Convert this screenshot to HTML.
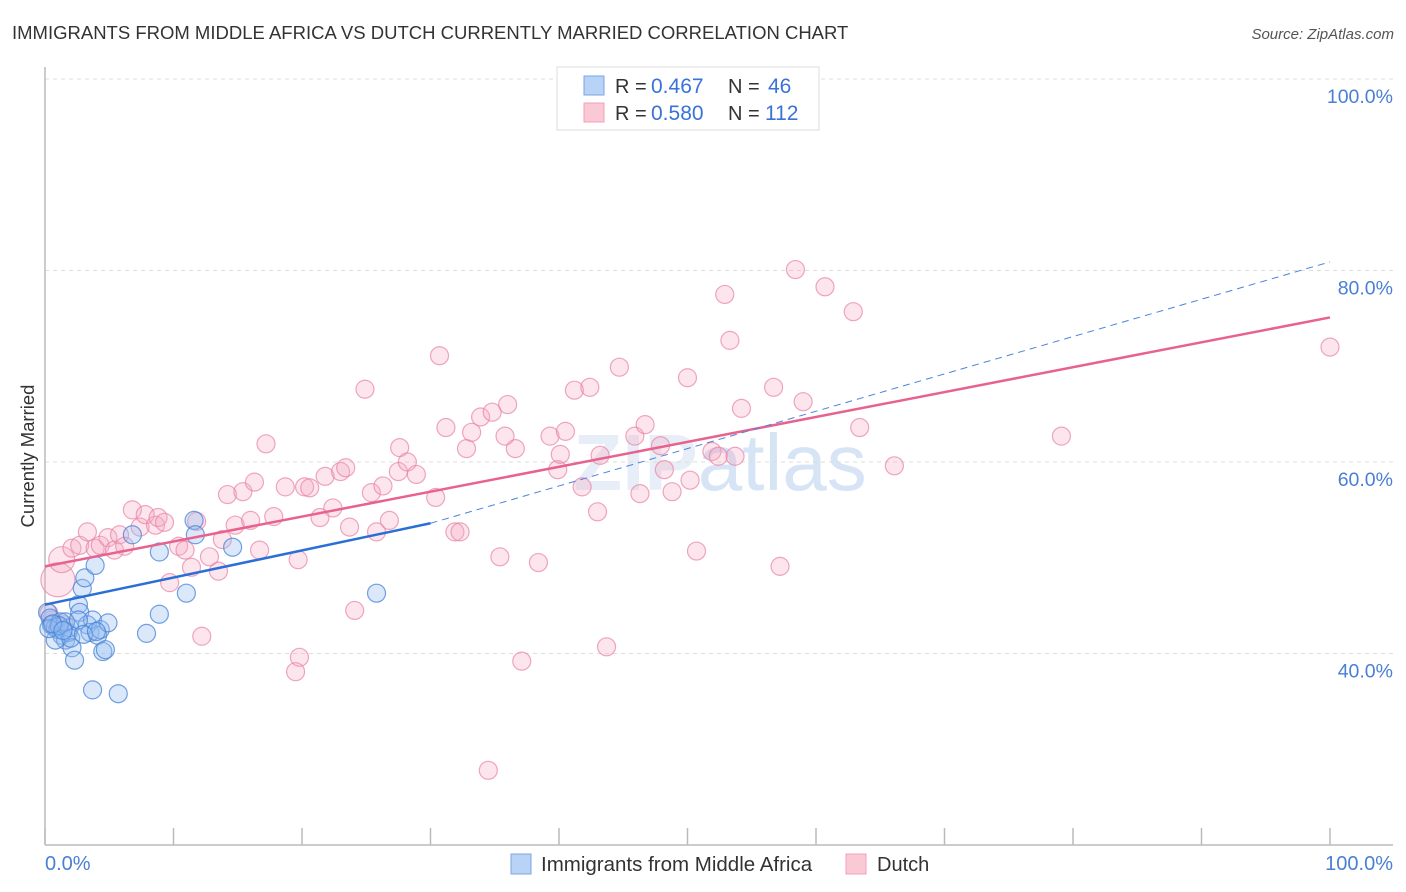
<!DOCTYPE html>
<html><head><meta charset="utf-8"><style>
body{margin:0;background:#fff;font-family:"Liberation Sans",sans-serif}
svg{display:block}
</style></head><body>
<svg id="chart" width="1406" height="892" viewBox="0 0 1406 892" xmlns="http://www.w3.org/2000/svg" font-family="Liberation Sans, sans-serif">
<text x="12" y="39" font-size="18.5" fill="#333">IMMIGRANTS FROM MIDDLE AFRICA VS DUTCH CURRENTLY MARRIED CORRELATION CHART</text>
<text x="1394" y="39" font-size="15" fill="#555" font-style="italic" text-anchor="end">Source: ZipAtlas.com</text>
<text x="720" y="490" font-size="80" fill="#e8eef7" text-anchor="middle" font-weight="bold">ZIP<tspan font-weight="normal" fill="#d6e4f5">atlas</tspan></text>
<g id="grid"></g>
<line x1="45" y1="67" x2="45" y2="845" stroke="#bbb" stroke-width="1.5"/>
<line x1="45" y1="845" x2="1393" y2="845" stroke="#bbb" stroke-width="1.5"/>
<text transform="translate(34,456) rotate(-90)" font-size="18.5" fill="#333" text-anchor="middle">Currently Married</text>
<text x="45" y="870" font-size="20" fill="#4a7fd4">0.0%</text>
<text x="1393" y="870" font-size="20" fill="#4a7fd4" text-anchor="end">100.0%</text>
<g id="pts"></g>
<g id="lines"></g>
<g>
<rect x="557" y="67" width="262" height="63" fill="#fff" stroke="#ddd"/>
<rect x="584" y="76" width="20" height="19" fill="#b8d3f5" stroke="#7aa6e6"/>
<rect x="584" y="103" width="20" height="19" fill="#fbc8d6" stroke="#f0a0b8"/>
<text x="615" y="93" font-size="20" fill="#333">R = <tspan x="651" fill="#3a72d8" font-size="21">0.467</tspan><tspan x="728">N = </tspan><tspan x="768" fill="#3a72d8" font-size="21">46</tspan></text>
<text x="615" y="120" font-size="20" fill="#333">R = <tspan x="651" fill="#3a72d8" font-size="21">0.580</tspan><tspan x="728">N = </tspan><tspan x="765" fill="#3a72d8" font-size="21">112</tspan></text>
</g>
<g>
<rect x="511" y="854" width="20" height="20" fill="#b8d3f5" stroke="#7aa6e6"/>
<text x="541" y="871" font-size="20.5" fill="#333">Immigrants from Middle Africa</text>
<rect x="846" y="854" width="20" height="20" fill="#fbc8d6" stroke="#f0a0b8"/>
<text x="877" y="871" font-size="20" fill="#333">Dutch</text>
</g>
</svg>
<script>
const yTicks=[40,60,80,100];
const yTickLabels=["40.0%","60.0%","80.0%","100.0%"];
const xTicks=[0,10,20,30,40,50,60,70,80,90,100];
const blueX=[0.2,0.4,0.5,0.8,1.0,1.2,1.3,1.6,1.8,1.9,2.1,2.3,2.6,2.7,2.9,3.1,3.3,3.5,3.7,3.9,4.1,4.3,4.5,4.7,4.9,3.7,5.7,6.8,7.9,8.9,8.9,11.0,11.6,11.7,14.6,25.8,0.8,1.6,2.6,0.3,1.1,2.0,3.0,4.0,0.6,1.4];
const blueY=[44.3,43.7,43.0,42.7,42.5,43.3,41.9,41.4,42.2,42.7,40.6,39.3,45.1,44.3,46.8,47.9,43.0,42.2,43.5,49.2,41.9,42.5,40.2,40.4,43.2,36.2,35.8,52.4,42.1,50.6,44.1,46.3,53.9,52.4,51.1,46.3,41.4,43.3,43.5,42.6,42.9,41.6,42.0,42.3,43.1,42.4];
const pinkX=[1.0,1.3,2.1,2.7,3.3,3.9,4.3,4.9,5.4,5.8,6.2,6.8,7.4,7.8,8.6,8.8,9.3,9.7,10.4,10.9,11.4,11.8,12.2,12.8,13.5,13.8,14.2,14.8,15.4,16.0,16.3,16.7,17.2,17.8,18.7,19.7,19.8,19.5,20.2,20.6,21.4,21.8,22.4,23.0,23.4,24.1,23.7,24.9,25.4,25.8,26.3,26.8,27.5,27.6,28.2,28.9,30.4,30.7,31.2,31.9,32.3,32.8,33.2,33.9,34.5,34.8,35.4,36.0,36.6,35.8,37.1,38.4,39.3,39.9,40.1,40.5,41.2,41.8,42.4,43.0,43.2,43.7,44.7,45.9,46.3,46.7,47.9,48.2,48.8,50.0,50.2,50.7,51.9,52.4,52.9,53.3,53.7,54.2,56.7,57.2,58.4,59.0,60.7,62.9,63.4,66.1,79.1,100,0.5,1.0,0.3,1.5];
const pinkY=[47.7,49.8,51.0,51.3,52.7,51.0,51.3,52.1,50.8,52.4,51.2,55.0,53.2,54.5,53.4,54.2,53.7,47.4,51.2,50.8,49.0,53.8,41.8,50.1,48.6,51.9,56.6,53.4,56.9,53.9,57.9,50.8,61.9,54.3,57.4,49.8,39.6,38.1,57.4,57.3,54.2,58.5,55.2,59.0,59.4,44.5,53.2,67.6,56.8,52.7,57.5,53.9,59.0,61.5,60.0,58.7,56.3,71.1,63.6,52.7,52.7,61.4,63.1,64.7,27.8,65.2,50.1,66.0,61.4,62.7,39.2,49.5,62.7,59.2,60.8,63.2,67.5,57.4,67.8,54.8,60.7,40.7,69.9,62.7,56.7,63.9,61.7,59.2,56.9,68.8,58.1,50.7,61.1,60.6,77.5,72.7,60.6,65.6,67.8,49.1,80.1,66.3,78.3,75.7,63.6,59.6,62.7,72.0,43.5,42.8,44.2,43.0];
const pinkR=[17,13];
const blueTrend=[[0,45.1],[30,53.6]];
const blueDash=[[30,53.6],[100,80.9]];
const pinkTrend=[[0,49.1],[100,75.1]];
const NS="http://www.w3.org/2000/svg";
const X=v=>45+v*12.85;
const Y=v=>79+(100-v)*9.575;
function mk(tag,attrs,parent){const e=document.createElementNS(NS,tag);for(const k in attrs)e.setAttribute(k,attrs[k]);parent.appendChild(e);return e;}
const grid=document.getElementById('grid');
yTicks.forEach((t,i)=>{
 const l=mk('line',{x1:45,x2:1393,y1:Y(t),y2:Y(t),stroke:'#ddd','stroke-dasharray':'4,4'},grid);
 
 
 const tx=mk('text',{x:1393,y:Y(t)+24,'font-size':19.5,fill:'#4a7fd4','text-anchor':'end'},grid);
 tx.textContent=yTickLabels[i];
 
 
});
xTicks.forEach(t=>{
 const l=mk('line',{x1:X(t),x2:X(t),y1:828,y2:845,stroke:'#bbb','stroke-width':1.5},grid);
 
 
});
const pts=document.getElementById('pts');
pinkX.forEach((x,i)=>{
 const c=mk('circle',{cx:X(x),cy:Y(pinkY[i]),r:pinkR[i]||9,fill:'rgba(246,170,196,0.3)',stroke:'rgba(232,130,164,0.7)','stroke-width':1.2},pts);
 
 
});
blueX.forEach((x,i)=>{
 const c=mk('circle',{cx:X(x),cy:Y(blueY[i]),r:9,fill:'rgba(150,190,240,0.35)',stroke:'rgba(70,130,215,0.75)','stroke-width':1.2},pts);
 
 
});
const lines=document.getElementById('lines');
let l1=mk('line',{x1:X(pinkTrend[0][0]),y1:Y(pinkTrend[0][1]),x2:X(pinkTrend[1][0]),y2:Y(pinkTrend[1][1]),stroke:'#e8628e','stroke-width':2.5},lines);


let l2=mk('line',{x1:X(blueDash[0][0]),y1:Y(blueDash[0][1]),x2:X(blueDash[1][0]),y2:Y(blueDash[1][1]),stroke:'#4a84dc','stroke-width':1,'stroke-dasharray':'7,5'},lines);


let l3=mk('line',{x1:X(blueTrend[0][0]),y1:Y(blueTrend[0][1]),x2:X(blueTrend[1][0]),y2:Y(blueTrend[1][1]),stroke:'#2a6fd6','stroke-width':2.5},lines);


</script>
</body></html>
